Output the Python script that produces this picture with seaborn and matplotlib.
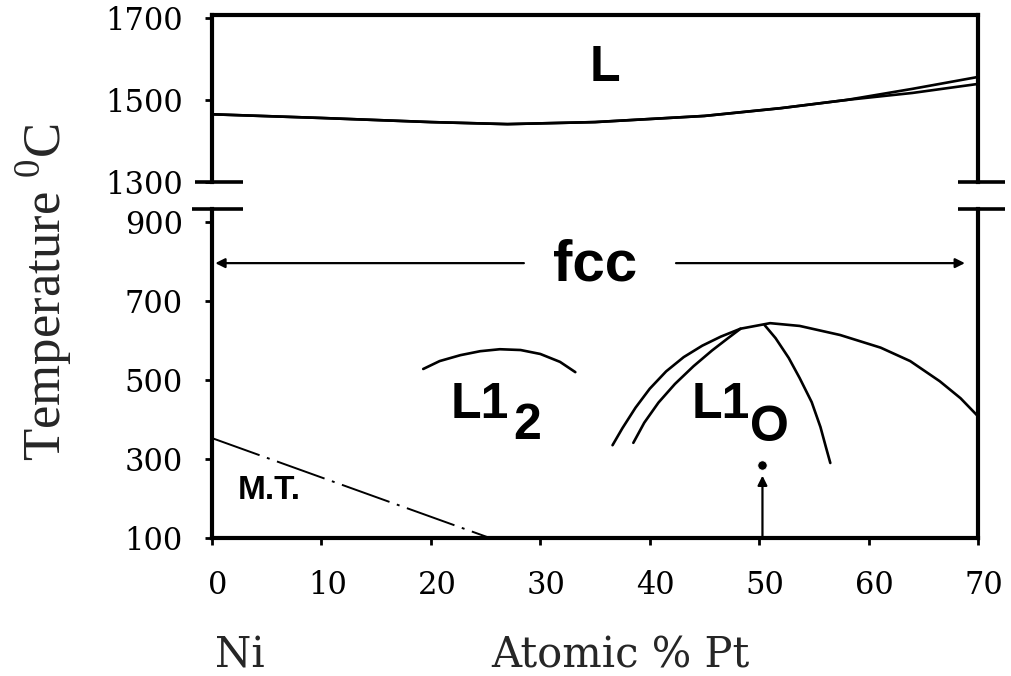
import matplotlib
matplotlib.use("Agg")
import matplotlib.pyplot as plt
import seaborn as sns
from matplotlib.transforms import ScaledTranslation

sns.set_theme(style="white")
plt.rcParams["font.family"] = ["DejaVu Serif"]
plt.rcParams["mathtext.fontset"] = "custom"
plt.rcParams["mathtext.rm"] = "Liberation Serif"

# ---- phase boundaries (x = atomic % Pt, T = deg C) ----
liq_x = [0, 10, 20, 27, 35, 45, 52, 58, 64, 70]
liq_T = [1465, 1456, 1446, 1441, 1446, 1461, 1480, 1500, 1527, 1556]
sol_x = [0, 10, 20, 27, 35, 45, 52, 58, 64, 70]
sol_T = [1465, 1456, 1446, 1441, 1446, 1461, 1480, 1500, 1517, 1539]

l12_x = [19.3, 20.8, 22.7, 24.5, 26.3, 28.2, 30.0, 31.8, 33.2]
l12_T = [528, 548, 563, 573, 578, 576, 566, 546, 520]

l10_outer_x = [36.6, 37.5, 38.7, 40.0, 41.5, 43.1, 44.8, 46.5, 48.3, 51.0,
               53.7, 57.4, 61.1, 63.8, 66.5, 68.4, 69.9]
l10_outer_T = [335, 378, 430, 478, 522, 558, 587, 610, 630, 644,
               637, 614, 582, 548, 497, 454, 411]
l10_inner_left_x = [38.5, 39.5, 40.8, 42.3, 44.0, 45.7, 47.2, 48.3]
l10_inner_left_T = [341, 392, 443, 490, 535, 575, 607, 630]
l10_inner_right_x = [50.5, 51.5, 52.7, 53.7, 54.8, 55.6, 56.1, 56.5]
l10_inner_right_T = [639, 606, 556, 505, 444, 381, 330, 290]

mt_x = [0, 25.4]
mt_T = [353, 100]

dot_x = [50.3]
dot_T = [285]

fcc_T = 796
x_ticks = [0, 10, 20, 30, 40, 50, 60, 70]
y_ticks_top = [1300, 1500, 1700]
y_ticks_bot = [100, 300, 500, 700, 900]

fig = plt.figure(figsize=(10.11, 6.76), dpi=100)
ax_top = fig.add_axes([0.2097, 0.7308, 0.7577, 0.2470])
ax_bot = fig.add_axes([0.2097, 0.2041, 0.7577, 0.4867])

line_kw = dict(color="black", lw=1.9, sort=False, estimator=None, legend=False)

# upper panel: liquid region
sns.lineplot(x=liq_x, y=liq_T, ax=ax_top, **line_kw)
sns.lineplot(x=sol_x, y=sol_T, ax=ax_top, **line_kw)

# lower panel: ordered phases
sns.lineplot(x=l12_x, y=l12_T, ax=ax_bot, **line_kw)
sns.lineplot(x=l10_outer_x, y=l10_outer_T, ax=ax_bot, **line_kw)
sns.lineplot(x=l10_inner_left_x, y=l10_inner_left_T, ax=ax_bot, **line_kw)
sns.lineplot(x=l10_inner_right_x, y=l10_inner_right_T, ax=ax_bot, **line_kw)
ax_bot.plot(mt_x, mt_T, color="black", lw=1.4, dashes=(26, 4, 1.5, 4))
sns.scatterplot(x=dot_x, y=dot_T, ax=ax_bot, color="black", s=45, legend=False)

arrow_kw = dict(arrowstyle="-|>", color="black", lw=1.6,
                mutation_scale=14, shrinkA=0, shrinkB=0)
ax_bot.annotate("", xy=(dot_x[0], 258), xytext=(dot_x[0], 100), arrowprops=arrow_kw)
ax_bot.annotate("", xy=(0.3, fcc_T), xytext=(28.5, fcc_T), arrowprops=arrow_kw)
ax_bot.annotate("", xy=(68.8, fcc_T), xytext=(42.4, fcc_T), arrowprops=arrow_kw)

# phase labels
lab = dict(family="Liberation Sans", weight="bold", color="black",
           ha="center", va="center")
ax_top.text(35.9, 1578, "L", fontsize=36, **lab)
ax_bot.text(35.0, 790, "fcc", fontsize=42, **lab)
ax_bot.text(24.5, 437, "L1", fontsize=36, **lab)
ax_bot.text(28.8, 383, "2", fontsize=36, **lab)
ax_bot.text(46.5, 437, "L1", fontsize=36, **lab)
ax_bot.text(50.9, 378, "O", fontsize=36, **lab)
ax_bot.text(5.2, 221, "M.T.", fontsize=24, **lab)

# axes limits, ticks and frame
ax_top.set_xlim(0, 70)
ax_bot.set_xlim(0, 70)
ax_top.set_ylim(1300, 1707)
ax_bot.set_ylim(100, 933)

ax_top.set_xticks([])
ax_top.set_yticks(y_ticks_top)
ax_bot.set_xticks(x_ticks)
ax_bot.set_yticks(y_ticks_bot)

for ax in (ax_top, ax_bot):
    for s in ax.spines.values():
        s.set_linewidth(3)
        s.set_color("black")
    ax.tick_params(axis="both", direction="out", length=5, width=2,
                   color="black", labelsize=22, labelcolor="black",
                   left=True, bottom=True)
    ax.tick_params(axis="y", pad=16)
    ax.set_xlabel("")
    ax.set_ylabel("")
ax_bot.tick_params(axis="x", pad=18)
ax_top.spines["bottom"].set_visible(False)
ax_bot.spines["top"].set_visible(False)

shift = ScaledTranslation(6 / 100, 0, fig.dpi_scale_trans)
for t in ax_bot.get_xticklabels():
    t.set_transform(t.get_transform() + shift)

# axis-break marks on both sides
brk = dict(color="black", lw=2.6, clip_on=False, solid_capstyle="butt")
ax_top.plot([-0.022, 0.040], [0, 0], transform=ax_top.transAxes, **brk)
ax_top.plot([0.974, 1.035], [0, 0], transform=ax_top.transAxes, **brk)
ax_bot.plot([-0.026, 0.040], [1, 1], transform=ax_bot.transAxes, **brk)
ax_bot.plot([0.974, 1.035], [1, 1], transform=ax_bot.transAxes, **brk)

# axis titles
fig.text(0.043, 1 - 292 / 676, r"Temperature $^{\mathrm{0}}$C", rotation=90,
         family="Liberation Serif", fontsize=38, ha="center", va="center")
fig.text(240 / 1011, 1 - 656 / 676, "Ni", fontsize=30, ha="center", va="center")
fig.text(620 / 1011, 1 - 656 / 676, "Atomic % Pt", fontsize=30,
         ha="center", va="center")

fig.savefig("out.png", dpi=100, facecolor="white")
